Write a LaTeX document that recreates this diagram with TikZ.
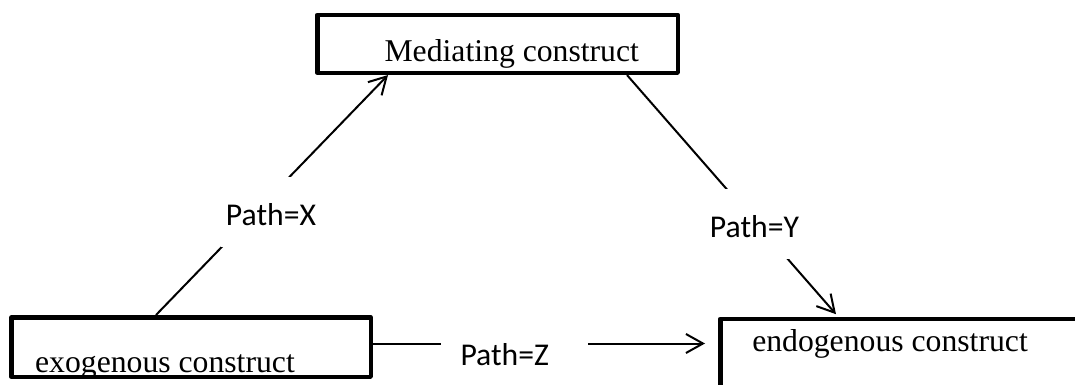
\documentclass[tikz,border=0pt]{standalone}
\usepackage{fontspec}
\setmainfont{Liberation Serif}
\newfontfamily\pathfont{Carlito}
\usetikzlibrary{arrows.meta}

% a fixed-width line with the text set in from the left edge
\newcommand{\indentedtext}[3]{\makebox[#1][l]{\hspace*{#2}#3}}

\begin{document}
\begin{tikzpicture}[x=1pt,y=-1pt,
  construct/.style={draw, line width=4.5pt, line join=round, inner sep=0pt,
    font=\fontsize{31.7pt}{38pt}\selectfont},
  pathlabel/.style={fill=white, inner sep=0pt, text height=48pt, text depth=22pt,
    font=\pathfont\fontsize{31.7pt}{38pt}\selectfont},
  conn/.style={line width=2pt, -{Straight Barb[length=17pt,width=19pt]}}
]
\useasboundingbox (0,0) rectangle (1075,385);
\clip (0,0) rectangle (1075,385);

% constructs
\node[construct, anchor=north west, text height=46.1pt, text depth=11.75pt]
  (med) at (315,12.7) {\indentedtext{360.5pt}{67.3pt}{Mediating construct}};
\node[construct, anchor=north west, text height=55.45pt, text depth=4.05pt]
  (exo) at (9.3,315) {\indentedtext{359.2pt}{23.6pt}{exogenous construct}};
\node[construct, anchor=north west, text height=32.05pt, text depth=49pt]
  (endo) at (718,316.7) {\indentedtext{369.75pt}{32pt}{endogenous construct}};

% paths
\draw[conn] ([xshift=146.7pt]exo.north west) -- ([xshift=73pt]med.south west);
\draw[conn] ([xshift=-53pt]med.south east) -- ([xshift=118pt,yshift=2.5pt]endo.north west);
\draw[conn, shorten >=13pt] ([yshift=3.5pt]exo.east) -- ([yshift=3.5pt]exo.east -| endo.west);

% path labels
\node[pathlabel, minimum width=101pt] (px) at (271,212) {Path=X};
\node[pathlabel, minimum width=99pt] (py) at (754.5,224) {Path=Y};
\node[pathlabel] (pz) at (514.5,352) {\indentedtext{147pt}{19.5pt}{Path=Z}};
\end{tikzpicture}
\end{document}
